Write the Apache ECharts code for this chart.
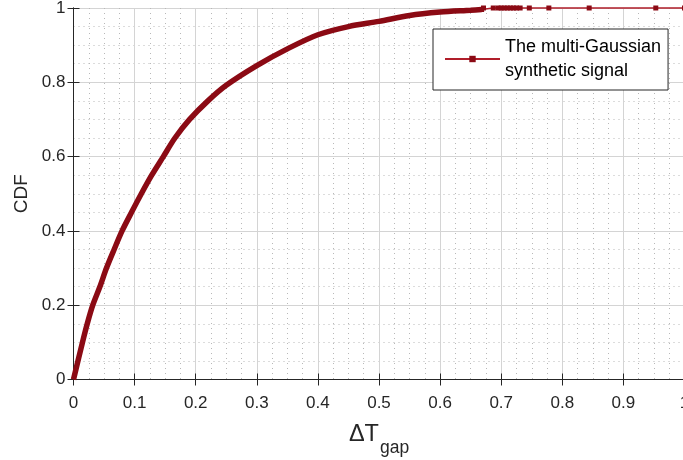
<!DOCTYPE html>
<html>
<head>
<meta charset="utf-8">
<script src="https://cdn.jsdelivr.net/npm/echarts@6/dist/echarts.min.js"></script>
<style>
html,body{margin:0;padding:0;background:#fff;overflow:hidden;}
#chart{width:683px;height:460px;}
</style>
</head>
<body>
<div id="chart"></div>
<script>
var cdfX = [0, 0.0147, 0.0225, 0.0315, 0.043, 0.054, 0.0665, 0.0795, 0.095, 0.111, 0.128, 0.147, 0.166, 0.19, 0.22, 0.25, 0.3, 0.35, 0.4, 0.45, 0.5, 0.55, 0.6, 0.65, 0.668];
var cdfY = [0, 0.1, 0.15, 0.2, 0.249, 0.3, 0.35, 0.4, 0.45, 0.5, 0.55, 0.6, 0.65, 0.7, 0.75, 0.792, 0.845, 0.890, 0.928, 0.950, 0.964, 0.980, 0.989, 0.994, 0.996];
// Tail samples sitting at CDF = 1
var tailX = [0.668, 0.671, 0.687, 0.695, 0.700, 0.705, 0.710, 0.715, 0.720, 0.725, 0.731, 0.746, 0.778, 0.844, 0.953, 1.0];
var tailY = [0.996, 1, 1, 1, 1, 1, 1, 1, 1, 1, 1, 1, 1, 1, 1, 1];
var seriesName = 'The multi-Gaussian\nsynthetic signal';
var xName = '{a|\u0394T}{b|gap}';
var yName = 'CDF';

var font = "'Liberation Sans', Arial, Helvetica, sans-serif";
var dark = '#262626';
var chart = echarts.init(document.getElementById('chart'), null, {renderer:'canvas'});

function pairs(xs, ys){ return xs.map(function(x,i){ return [x, ys[i]]; }); }

var commonX = {type:'value', min:0, max:1, interval:0.1};
var commonY = {type:'value', min:0, max:1, interval:0.2};

chart.setOption({
  animation:false,
  backgroundColor:'#fff',
  grid:{left:73.5, top:8, width:611, height:371.5, containLabel:false, outerBoundsMode:'none'},
  legend:{
    data:[seriesName],
    left:433, top:29,
    orient:'vertical',
    backgroundColor:'#fff',
    borderColor:dark, borderWidth:1, borderRadius:0,
    padding:[6,7,7,11],
    itemWidth:55, itemHeight:8,
    textStyle:{fontSize:18, lineHeight:24, color:'#000', fontFamily:font}
  },
  xAxis:[
    Object.assign({}, commonX, {
      position:'bottom',
      name:xName, nameLocation:'middle', nameGap:33,
      nameTextStyle:{
        fontFamily:font, color:dark,
        rich:{
          a:{fontSize:23.5, fontFamily:font, color:dark},
          b:{fontSize:17.5, fontFamily:font, color:dark, padding:[27,0,0,1]}
        }
      },
      axisLine:{show:true, lineStyle:{color:dark, width:1}},
      axisTick:{show:true, inside:true, length:6, lineStyle:{color:dark}},
      axisLabel:{fontSize:17, color:dark, fontFamily:font, margin:15},
      splitLine:{show:true, lineStyle:{color:'#d4d4d4', width:1}},
      minorTick:{show:false, splitNumber:4},
      minorSplitLine:{show:true, lineStyle:{color:'#b8b8b8', width:1, type:[1,4]}}
    }),
    Object.assign({}, commonX, {
      position:'top',
      axisLine:{show:true, lineStyle:{color:dark, width:1}},
      axisTick:{show:true, inside:true, length:6, lineStyle:{color:dark}},
      axisLabel:{show:false},
      splitLine:{show:false}
    })
  ],
  yAxis:[
    Object.assign({}, commonY, {
      position:'left',
      name:yName, nameLocation:'middle', nameGap:41, nameRotate:90,
      nameTextStyle:{fontSize:19, color:dark, fontFamily:font},
      axisLine:{show:true, lineStyle:{color:dark, width:1}},
      axisTick:{show:true, inside:true, length:6, lineStyle:{color:dark}},
      axisLabel:{fontSize:17, color:dark, fontFamily:font, margin:8},
      splitLine:{show:true, lineStyle:{color:'#d4d4d4', width:1}},
      minorTick:{show:false, splitNumber:4},
      minorSplitLine:{show:true, lineStyle:{color:'#b8b8b8', width:1, type:[1,4]}}
    }),
    Object.assign({}, commonY, {
      position:'right',
      axisLine:{show:true, lineStyle:{color:dark, width:1}},
      axisTick:{show:true, inside:true, length:6, lineStyle:{color:dark}},
      axisLabel:{show:false},
      splitLine:{show:false}
    })
  ],
  series:[
    {
      type:'line', name:'curve', xAxisIndex:0, yAxisIndex:0,
      data:pairs(cdfX, cdfY),
      symbol:'none', showSymbol:false, smooth:0.3,
      lineStyle:{width:5.5, color:'#8b0a14'},
      itemStyle:{color:'#8b0a14'},
      clip:false, silent:true, z:3
    },
    {
      type:'line', name:seriesName, xAxisIndex:0, yAxisIndex:0,
      data:pairs(tailX, tailY),
      symbol:'rect', symbolSize:5, showSymbol:true, showAllSymbol:true,
      lineStyle:{width:1.6, color:'#b01e2a'},
      itemStyle:{color:'#8b0a14'},
      clip:false, silent:true, z:4
    }
  ]
});
</script>
</body>
</html>
